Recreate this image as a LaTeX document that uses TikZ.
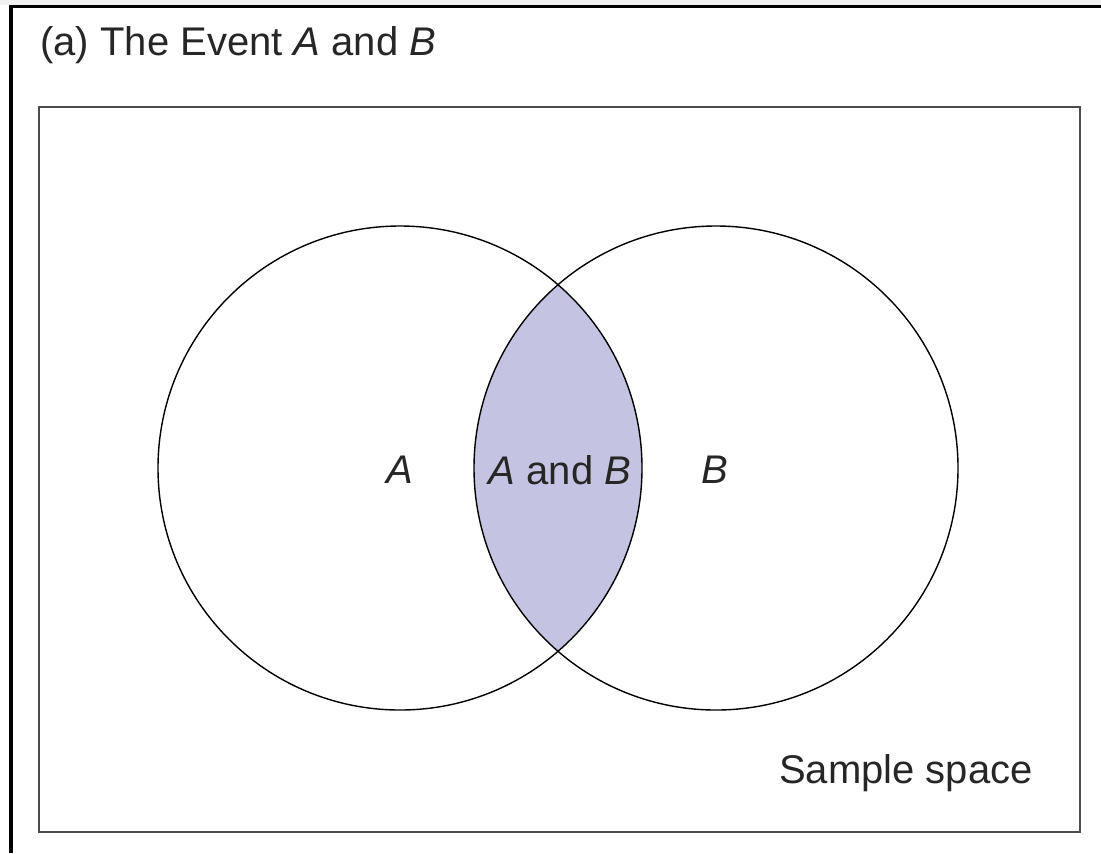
\documentclass[tikz,border=0pt]{standalone}
\usepackage{fontspec}
\setmainfont{Liberation Sans}
\begin{document}
\begin{tikzpicture}[x=0.5pt,y=-0.5pt,
  lbl/.style={font=\fontsize{20pt}{24pt}\selectfont, inner sep=0pt, text=black!85},
  setcirc/.style={circle, draw=black, line width=0.7pt, minimum size=242pt, inner sep=0pt}]
\useasboundingbox (0,0) rectangle (1101,853);
\fill[black!6] (0,0) rectangle (1101,5);
% outer frame (top and left)
\draw[line width=1.6pt] (11,853) -- (11,6.5) -- (1101,6.5);
% sample space
\draw[line width=1.2pt, draw=black!70] (39,107) rectangle (1080,832);
\coordinate (ca) at (400,468);
\coordinate (cb) at (716,468);
% intersection fill
\begin{scope}
  \clip (ca) circle[radius=242];
  \fill[fill={rgb,255:red,197;green,195;blue,226}] (cb) circle[radius=242];
\end{scope}
\node[setcirc] (A) at (ca) {};
\node[setcirc] (B) at (cb) {};
\node[lbl, anchor=west] (title) at (40,45) {(a) The Event \textit{A} and \textit{B}};
\node[lbl] (la) at (400,470) {\textit{A}};
\node[lbl] (lab) at (560,470) {\textit{A} and \textit{B}};
\node[lbl] (lb) at (715,470) {\textit{B}};
\node[lbl, anchor=east] (ss) at (1033,773) {Sample space};
\end{tikzpicture}
\end{document}
